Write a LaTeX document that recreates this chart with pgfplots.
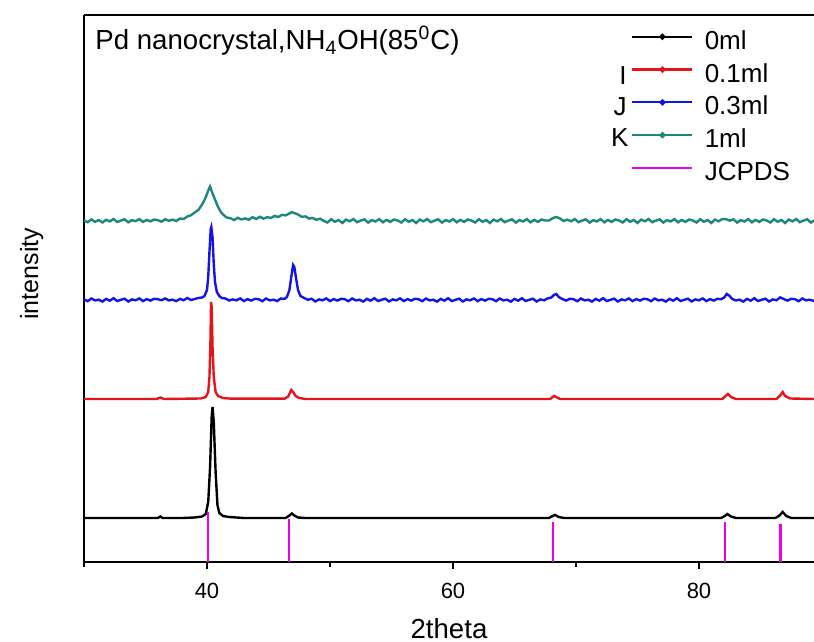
\documentclass[border=0pt]{standalone}
\usepackage{pgfplots}
\pgfplotsset{compat=1.18}
\usepackage{fontspec}
\setmainfont{Liberation Sans}
\definecolor{cred}{RGB}{228,20,28}
\definecolor{cblue}{RGB}{20,20,228}
\definecolor{cteal}{RGB}{30,135,125}
\definecolor{cmag}{RGB}{235,0,235}
\pgfplotsset{
  dotline legend/.style={legend image code/.code={\draw[##1, line width=1.1pt] (0pt,3pt) -- (30pt,3pt); \fill[##1] (15pt,3pt) circle (0.9pt);}},
  lineonly legend/.style={legend image code/.code={\draw[##1] (0pt,3pt) -- (30pt,3pt);}},
}
\begin{document}
\begin{tikzpicture}
\begin{axis}[
  name=ax,
  scale only axis, width=365pt, height=273.5pt,
  xmin=30, xmax=89.35, ymin=0, ymax=547,
  axis x line=box, axis y line=left,
  x axis line style={-}, y axis line style={-},
  axis line style={line width=0.9pt},
  xtick={40,60,80}, minor xtick={30,50,70},
  xtick pos=bottom, tick align=outside,
  major tick length=3.5pt, minor tick length=2.5pt,
  every tick/.style={black, line width=0.9pt},
  ytick=\empty,
  /pgf/number format/assume math mode=true,
  tick label style={font=\fontsize{11}{13}\selectfont},
  xticklabel style={yshift=-3.5pt},
  xlabel={2theta}, ylabel={intensity},
  xlabel style={at={(axis description cs:0.5,-0.139)}, anchor=base, font=\fontsize{13.8}{15}\selectfont},
  ylabel style={at={(axis description cs:-0.063,0.527)}, anchor=base, font=\fontsize{12.5}{14}\selectfont},
  legend style={at={(axis description cs:0.749,0.971)}, anchor=north west, draw=none, fill=none,
    font=\fontsize{13}{15}\selectfont, row sep=4.9pt, column sep=5.5pt, inner sep=0pt,
    nodes={inner sep=0pt, text height=9pt, text depth=2.5pt}},
  legend cell align=left,
  dotline legend,
  clip=false,
]
% JCPDS reference lines
\addplot[ycomb, color=cmag, line width=1.3pt, forget plot] coordinates {
 (40.08,50) (46.66,43) (68.12,40) (82.1,40) (86.62,38)};
% black 0ml
\addplot[black, line width=1.2pt] coordinates {
 (30,44) (33,44) (36.0,44) (36.2,45.5) (36.4,44) (38,44) (39,44.5) (39.6,45.5) (39.9,48)
 (40.1,60) (40.25,95) (40.38,145) (40.45,155) (40.55,140) (40.7,90) (40.85,57) (41.0,49)
 (41.3,46) (41.8,45) (43,44) (46.4,44) (46.7,46.5) (46.9,48.5) (47.1,46.5) (47.4,44.5)
 (48,44) (67.8,44) (68.1,46) (68.3,47) (68.6,45) (69,44) (81.8,44) (82.1,46) (82.3,48)
 (82.6,45.5) (83,44) (86.2,44) (86.5,46) (86.8,50) (87.1,46) (87.5,44) (89.35,44)};
\addlegendentry{0ml}
% red 0.1ml
\addplot[cred, line width=1.2pt] coordinates {
 (30,163) (35.9,163) (36.2,164.5) (36.5,163) (39.5,163.5) (39.9,165) (40.1,170) (40.2,185)
 (40.28,220) (40.33,260) (40.38,255) (40.45,215) (40.55,185) (40.7,170) (40.9,166)
 (41.3,164) (42,163.3) (46.3,163.3) (46.6,165.5) (46.85,172) (47.0,170) (47.2,166)
 (47.5,164) (48,163) (67.9,163) (68.2,166) (68.4,165) (68.7,163) (81.9,163) (82.2,166.5)
 (82.35,168) (82.6,165) (83,163) (86.3,163) (86.6,166.5) (86.8,170) (87.0,166)
 (87.4,163.5) (89.35,163)};
\addlegendentry{0.1ml}
% blue 0.3ml
\addplot[cblue, line width=1.2pt] coordinates {
 (30.0,262.8) (30.3,260.8) (30.6,263.5) (30.9,261.6) (31.2,262.3) (31.5,260.4) (31.8,263.1)
 (32.1,261.3) (32.4,263.8) (32.7,261.0) (33.0,262.2) (33.3,263.3) (33.6,260.5) (33.9,262.6)
 (34.2,261.7) (34.5,263.6) (34.8,260.9) (35.1,262.9) (35.4,261.4) (35.7,263.2) (36.0,262.8)
 (36.3,261.8) (36.6,263.5) (36.9,261.6) (37.2,262.3) (37.5,260.9) (37.8,263.1) (38.1,261.8)
 (38.4,264.0) (38.7,262.0) (39.0,263.0) (39.3,264.0) (39.6,264.5) (39.8,266) (40.0,272)
 (40.1,285) (40.2,310) (40.3,333) (40.35,335) (40.45,325) (40.55,298) (40.65,280) (40.8,270)
 (41.0,266) (41.2,264) (41.5,263.5) (41.8,261.5) (42.1,262.6) (42.4,261.7) (42.7,263.6)
 (43.0,260.9) (43.3,262.9) (43.6,261.4) (43.9,263.2) (44.2,262.8) (44.5,260.8) (44.8,263.5)
 (45.1,261.6) (45.4,262.3) (45.7,261.0) (46.0,263.5) (46.3,263.0) (46.5,265) (46.7,272)
 (46.85,285) (47.0,297) (47.1,295) (47.25,283) (47.4,272) (47.6,266) (47.9,264) (48.2,262.2)
 (48.5,263.3) (48.8,260.5) (49.1,262.6) (49.4,261.7) (49.7,263.6) (50.0,260.9) (50.3,262.9)
 (50.6,261.4) (50.9,263.2) (51.2,262.8) (51.5,260.8) (51.8,263.5) (52.1,261.6) (52.4,262.3)
 (52.7,260.4) (53.0,263.1) (53.3,261.3) (53.6,263.8) (53.9,261.0) (54.2,262.2) (54.5,263.3)
 (54.8,260.5) (55.1,262.6) (55.4,261.7) (55.7,263.6) (56.0,260.9) (56.3,262.9) (56.6,261.4)
 (56.9,263.2) (57.2,262.8) (57.5,260.8) (57.8,263.5) (58.1,261.6) (58.4,262.3) (58.7,260.4)
 (59.0,263.1) (59.3,261.3) (59.6,263.8) (59.9,261.0) (60.2,262.2) (60.5,263.3) (60.8,260.5)
 (61.1,262.6) (61.4,261.7) (61.7,263.6) (62.0,260.9) (62.3,262.9) (62.6,261.4) (62.9,263.2)
 (63.2,262.8) (63.5,260.8) (63.8,263.5) (64.1,261.6) (64.4,262.3) (64.7,260.4) (65.0,263.1)
 (65.3,261.3) (65.6,263.8) (65.9,261.0) (66.2,262.2) (66.5,263.3) (66.8,260.5) (67.1,262.6)
 (67.4,261.7) (67.7,263.6) (68.0,264.5) (68.2,267) (68.4,268) (68.6,265) (68.9,262.9)
 (69.2,261.4) (69.5,263.2) (69.8,262.8) (70.1,260.8) (70.4,263.5) (70.7,261.6) (71.0,262.3)
 (71.3,260.4) (71.6,263.1) (71.9,261.3) (72.2,263.8) (72.5,261.0) (72.8,262.2) (73.1,263.3)
 (73.4,260.5) (73.7,262.6) (74.0,261.7) (74.3,263.6) (74.6,260.9) (74.9,262.9) (75.2,261.4)
 (75.5,263.2) (75.8,262.8) (76.1,260.8) (76.4,263.5) (76.7,261.6) (77.0,262.3) (77.3,260.4)
 (77.6,263.1) (77.9,261.3) (78.2,263.8) (78.5,261.0) (78.8,262.2) (79.1,263.3) (79.4,260.5)
 (79.7,262.6) (80.0,261.7) (80.3,263.6) (80.6,260.9) (80.9,262.9) (81.2,261.4) (81.5,263.2)
 (81.8,262.8) (82.05,264.5) (82.25,268) (82.45,266.5) (82.7,263) (83.0,261.6) (83.3,262.3)
 (83.6,260.4) (83.9,263.1) (84.2,261.3) (84.5,263.8) (84.8,261.0) (85.1,262.2) (85.4,263.3)
 (85.7,260.5) (86.0,262.6) (86.3,261.7) (86.6,264.6) (86.9,262.9) (87.2,261.4) (87.5,263.2)
 (87.8,262.8) (88.1,260.8) (88.4,263.5) (88.7,261.6) (89.0,262.3) (89.35,261)};
\addlegendentry{0.3ml}
% teal 1ml
\addplot[cteal, line width=1.2pt] coordinates {
 (30.0,341.5) (30.3,339.8) (30.6,342.6) (30.9,340.2) (31.2,341.9) (31.5,339.5) (31.8,342.2)
 (32.1,340.6) (32.4,343.0) (32.7,340.0) (33.0,341.4) (33.3,342.7) (33.6,339.7) (33.9,341.8)
 (34.2,340.9) (34.5,342.9) (34.8,340.1) (35.1,342.1) (35.4,340.6) (35.7,342.5) (36.0,341.9)
 (36.3,340.3) (36.6,342.8) (36.9,341.2) (37.2,342.4) (37.5,341.0) (37.8,343.5) (38.1,343.0)
 (38.4,345.5) (38.7,346.8) (39.0,349.5) (39.3,352.0) (39.6,357.5) (39.8,362) (40.0,368)
 (40.15,373) (40.25,375.5) (40.35,372) (40.5,367) (40.7,361) (40.9,355) (41.1,350.5)
 (41.3,347.5) (41.6,344.5) (41.9,343.8) (42.2,342.0) (42.5,344.2) (42.8,342.5) (43.1,343.6)
 (43.4,342.3) (43.7,344.8) (44.0,343.0) (44.3,345.2) (44.6,343.4) (44.9,344.9) (45.2,344.0)
 (45.5,346.1) (45.8,345.0) (46.1,347.2) (46.4,346.6) (46.7,348.5) (46.9,349.8) (47.1,348.9)
 (47.4,347.5) (47.7,345.2) (48.0,345.6) (48.3,343.4) (48.6,344.0) (48.9,342.2) (49.2,343.3)
 (49.5,341.0) (49.8,339.5) (50.1,342.8) (50.4,340.2) (50.7,342.0) (51.0,339.0) (51.3,342.4)
 (51.6,340.7) (51.9,343.0) (52.2,339.8) (52.5,341.4) (52.8,342.7) (53.1,339.4) (53.4,341.9)
 (53.7,340.5) (54.0,342.9) (54.3,339.7) (54.6,342.1) (54.9,340.1) (55.2,342.5) (55.5,341.5)
 (55.8,339.5) (56.1,342.8) (56.4,340.2) (56.7,342.0) (57.0,339.0) (57.3,342.4) (57.6,340.7)
 (57.9,343.0) (58.2,339.8) (58.5,341.4) (58.8,342.7) (59.1,339.4) (59.4,341.9) (59.7,340.5)
 (60.0,342.9) (60.3,339.7) (60.6,342.1) (60.9,340.1) (61.2,342.5) (61.5,341.5) (61.8,339.5)
 (62.1,342.8) (62.4,340.2) (62.7,342.0) (63.0,339.0) (63.3,342.4) (63.6,340.7) (63.9,343.0)
 (64.2,339.8) (64.5,341.4) (64.8,342.7) (65.1,339.4) (65.4,341.9) (65.7,340.5) (66.0,342.9)
 (66.3,339.7) (66.6,342.1) (66.9,340.1) (67.2,342.5) (67.5,341.5) (67.8,341.5) (68.1,343.8)
 (68.4,345.0) (68.7,343.5) (69.0,341.0) (69.3,342.4) (69.6,340.7) (69.9,343.0) (70.2,339.8)
 (70.5,341.4) (70.8,342.7) (71.1,339.4) (71.4,341.9) (71.7,340.5) (72.0,342.9) (72.3,339.7)
 (72.6,342.1) (72.9,340.1) (73.2,342.5) (73.5,341.5) (73.8,339.5) (74.1,342.8) (74.4,340.2)
 (74.7,342.0) (75.0,339.0) (75.3,342.4) (75.6,340.7) (75.9,343.0) (76.2,339.8) (76.5,341.4)
 (76.8,342.7) (77.1,339.4) (77.4,341.9) (77.7,340.5) (78.0,342.9) (78.3,339.7) (78.6,342.1)
 (78.9,340.1) (79.2,342.5) (79.5,341.5) (79.8,339.5) (80.1,342.8) (80.4,340.2) (80.7,342.0)
 (81.0,339.0) (81.3,342.4) (81.6,340.7) (81.9,343.0) (82.2,342.8) (82.5,341.4) (82.8,342.7)
 (83.1,339.4) (83.4,341.9) (83.7,340.5) (84.0,342.9) (84.3,339.7) (84.6,342.1) (84.9,340.1)
 (85.2,342.5) (85.5,341.5) (85.8,339.5) (86.1,342.8) (86.4,340.2) (86.7,342.0) (87.0,339.0)
 (87.3,342.4) (87.6,340.7) (87.9,343.0) (88.2,339.8) (88.5,341.4) (88.8,342.7) (89.1,339.4)
 (89.35,341.5)};
\addlegendentry{1ml}
\addlegendimage{cmag, line width=1.3pt, lineonly legend}
\addlegendentry{JCPDS}
% texts
\node[anchor=base west, font=\fontsize{13.8}{15}\selectfont, inner sep=0pt] at (axis cs:30.9,512)
  {Pd nanocrystal,NH\textsubscript{4}OH(85\textsuperscript{0}C)};
\node[anchor=east, font=\fontsize{13}{15}\selectfont, inner sep=0pt] at (axis cs:74.15,486) {I};
\node[anchor=east, font=\fontsize{13}{15}\selectfont, inner sep=0pt] at (axis cs:74.15,455) {J};
\node[anchor=east, font=\fontsize{13}{15}\selectfont, inner sep=0pt] at (axis cs:74.3,424) {K};
\end{axis}
\pgfresetboundingbox
\path ([shift={(-42pt,-40pt)}]ax.south west) rectangle ([shift={(0pt,7.5pt)}]ax.north east);
\end{tikzpicture}
\end{document}
